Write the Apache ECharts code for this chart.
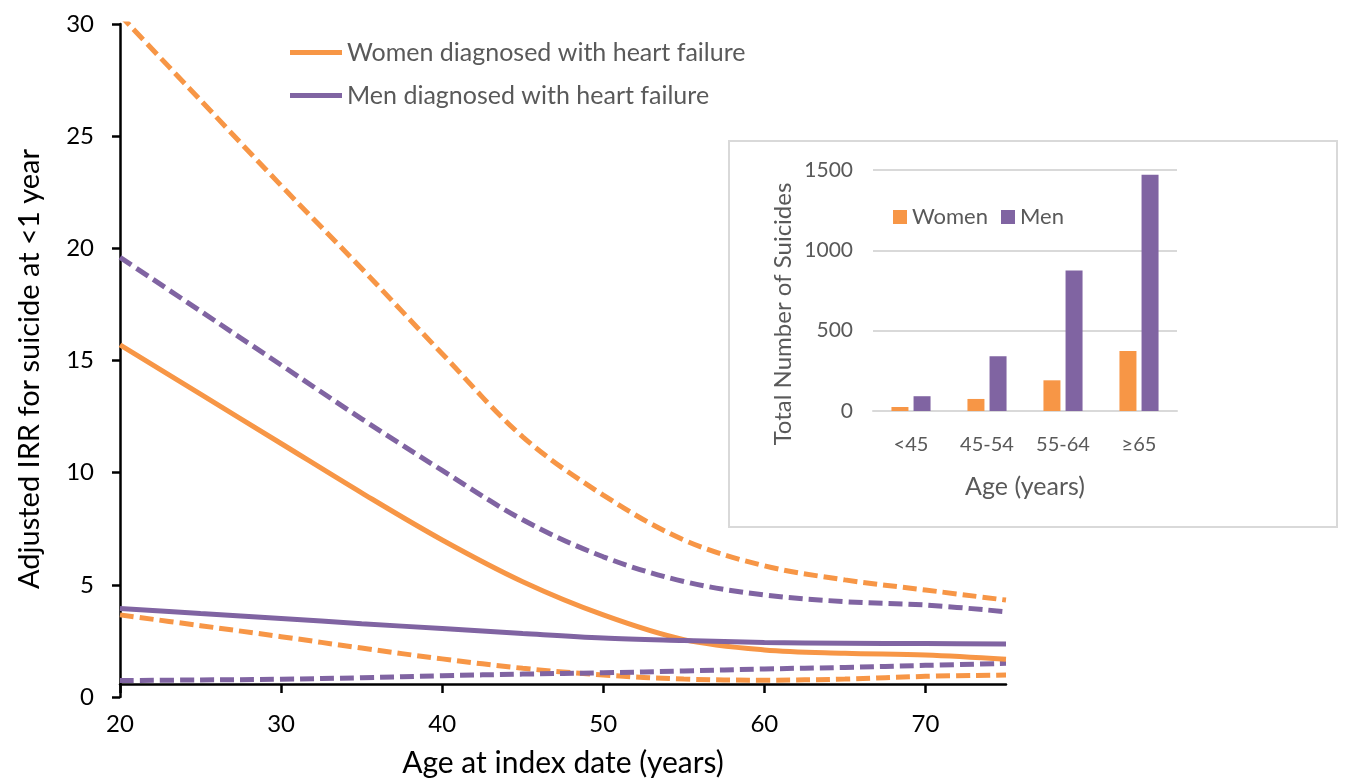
<!DOCTYPE html>
<html>
<head>
<meta charset="utf-8">
<script src="https://cdn.jsdelivr.net/npm/echarts@6/dist/echarts.min.js"></script>
<style>
html,body{margin:0;padding:0;background:#fff;}
#chart{width:1349px;height:783px;}
</style>
</head>
<body>
<div id="chart"></div>
<script>
// ---- main chart data (adjusted IRR by age at index date) ----
const ages = [20, 25, 30, 35, 40, 45, 50, 55, 60, 65, 70, 75];
const womenIRR   = [15.7, 13.5, 11.3, 9.1, 7.0, 5.14, 3.66, 2.56, 2.1, 1.95, 1.87, 1.68];
const womenLower = [3.66, 3.18, 2.69, 2.18, 1.7, 1.28, 0.98, 0.8, 0.75, 0.8, 0.92, 0.98];
const womenUpper = [30.4, 26.6, 22.8, 19.1, 15.3, 11.6, 9.0, 7.0, 5.85, 5.22, 4.77, 4.32];
const menIRR     = [3.95, 3.72, 3.5, 3.27, 3.05, 2.83, 2.63, 2.52, 2.43, 2.4, 2.38, 2.36];
const menLower   = [0.73, 0.76, 0.79, 0.86, 0.95, 1.02, 1.08, 1.16, 1.25, 1.32, 1.41, 1.5];
const menUpper   = [19.6, 17.2, 14.8, 12.4, 10.1, 7.9, 6.25, 5.15, 4.55, 4.25, 4.1, 3.8];
const xTicks = [20, 30, 40, 50, 60, 70];

// ---- inset data (total number of suicides) ----
const ageGroups = ['<45', '45-54', '55-64', '≥65'];
const womenCounts = [25, 75, 191, 374];
const menCounts = [92, 341, 875, 1471];

const ORANGE = '#F79646';
const PURPLE = '#8064A2';
const FONT = 'Lato';

function pairs(ys) { return ages.map((a, i) => [a, ys[i]]); }

function lineSeries(name, ys, color, dashed) {
  return {
    name: name,
    type: 'line',
    xAxisIndex: 0, yAxisIndex: 0,
    data: pairs(ys),
    smooth: 0.35,
    symbol: 'none',
    clip: true,
    lineStyle: { color: color, width: 5, type: dashed ? [14, 6] : 'solid', cap: 'butt' },
    itemStyle: { color: color },
    z: dashed ? 2 : 3
  };
}

const chart = echarts.init(document.getElementById('chart'));
chart.setOption({
  animation: false,
  backgroundColor: '#fff',
  textStyle: { fontFamily: FONT },
  grid: [
    { left: 120, right: 343, top: 24, bottom: 86 },
    { left: 873, right: 172, top: 170, bottom: 372 },
    { left: 120, right: 343, top: 24, bottom: 96 }
  ],
  legend: [
    {
      data: [
        { name: 'Women diagnosed with heart failure', icon: 'rect' },
        { name: 'Men diagnosed with heart failure', icon: 'rect' }
      ],
      orient: 'vertical',
      left: 290, top: 40, padding: 0,
      itemWidth: 52, itemHeight: 5, itemGap: 18,
      textStyle: { fontFamily: FONT, fontSize: 25, color: '#595959' }
    },
    {
      data: [
        { name: 'Women', icon: 'rect' },
        { name: 'Men', icon: 'rect' }
      ],
      orient: 'horizontal',
      left: 893, top: 206, padding: 0,
      itemWidth: 14, itemHeight: 14, itemGap: 13,
      textStyle: { fontFamily: FONT, fontSize: 22, color: '#595959' }
    }
  ],
  xAxis: [
    {
      // data axis for the main lines (hidden; visible axis drawn on grid 2)
      type: 'value', gridIndex: 0, min: 20, max: 75,
      show: false
    },
    {
      type: 'category', gridIndex: 1, data: ageGroups,
      name: 'Age (years)', nameLocation: 'middle', nameGap: 63,
      nameTextStyle: { fontFamily: FONT, fontSize: 25, color: '#595959' },
      axisLine: { show: true, lineStyle: { color: '#d9d9d9', width: 2 } },
      axisTick: { show: false },
      axisLabel: { fontFamily: FONT, fontSize: 20, color: '#595959', margin: 24 }
    },
    {
      type: 'value', gridIndex: 2, min: 20, max: 75,
      name: 'Age at index date (years)', nameLocation: 'middle', nameGap: 64,
      nameTextStyle: { fontFamily: FONT, fontSize: 30, color: '#000' },
      axisLine: { show: true, onZero: false, lineStyle: { color: '#000', width: 2.5 } },
      axisTick: { show: true, length: 9, customValues: xTicks, lineStyle: { color: '#000', width: 2.5 } },
      axisLabel: { fontFamily: FONT, fontSize: 24, color: '#000', margin: 28, customValues: xTicks },
      splitLine: { show: false }
    }
  ],
  yAxis: [
    {
      type: 'value', gridIndex: 0, min: 0, max: 30, interval: 5,
      axisLine: { show: true, lineStyle: { color: '#000', width: 2.5 } },
      axisTick: { show: true, length: 8, lineStyle: { color: '#000', width: 2.5 } },
      axisLabel: { fontFamily: FONT, fontSize: 24, color: '#000', margin: 26 },
      splitLine: { show: false }
    },
    {
      type: 'value', gridIndex: 1, min: 0, max: 1500, interval: 500,
      axisLine: { show: false },
      axisTick: { show: false },
      axisLabel: { fontFamily: FONT, fontSize: 21, color: '#595959', margin: 20,
                   formatter: function (v) { return String(v); } },
      splitLine: { show: true, lineStyle: { color: '#d9d9d9', width: 2 } }
    },
    {
      type: 'value', gridIndex: 2, min: 0, max: 30, show: false
    }
  ],
  graphic: [
    {
      type: 'rect', z: -10,
      shape: { x: 729, y: 141, width: 608, height: 386 },
      style: { fill: '#fff', stroke: '#d9d9d9', lineWidth: 2 }
    },
    {
      type: 'text', z: 10,
      x: 30, y: 369, rotation: Math.PI / 2,
      style: {
        text: 'Adjusted IRR for suicide at <1 year', fontFamily: FONT, fontSize: 29,
        fill: '#000', align: 'center', verticalAlign: 'middle'
      }
    },
    {
      type: 'text', z: 10,
      x: 783, y: 314, rotation: Math.PI / 2,
      style: {
        text: 'Total Number of Suicides', fontFamily: FONT, fontSize: 24,
        fill: '#595959', align: 'center', verticalAlign: 'middle'
      }
    }
  ],
  series: [
    lineSeries('Women diagnosed with heart failure', womenIRR, ORANGE, false),
    lineSeries('Women lower CI', womenLower, ORANGE, true),
    lineSeries('Women upper CI', womenUpper, ORANGE, true),
    lineSeries('Men diagnosed with heart failure', menIRR, PURPLE, false),
    lineSeries('Men lower CI', menLower, PURPLE, true),
    lineSeries('Men upper CI', menUpper, PURPLE, true),
    {
      name: 'Women', type: 'bar', xAxisIndex: 1, yAxisIndex: 1,
      data: womenCounts, barWidth: 17, barGap: '30%',
      itemStyle: { color: ORANGE }
    },
    {
      name: 'Men', type: 'bar', xAxisIndex: 1, yAxisIndex: 1,
      data: menCounts, barWidth: 17, barGap: '30%',
      itemStyle: { color: PURPLE }
    }
  ]
});
</script>
</body>
</html>
